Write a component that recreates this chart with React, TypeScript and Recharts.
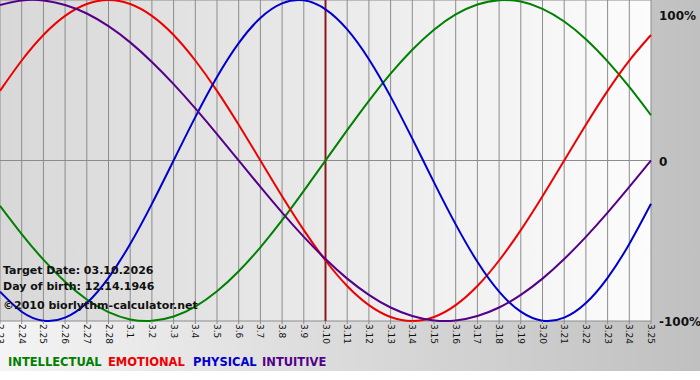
import React from 'react';
import {
  LineChart,
  Line,
  XAxis,
  YAxis,
  CartesianGrid,
  ReferenceLine,
} from 'recharts';

const dates = [
  '2.23', '2.24', '2.25', '2.26', '2.27', '2.28',
  '3.1', '3.2', '3.3', '3.4', '3.5', '3.6', '3.7', '3.8', '3.9', '3.10',
  '3.11', '3.12', '3.13', '3.14', '3.15', '3.16', '3.17', '3.18', '3.19', '3.20',
  '3.21', '3.22', '3.23', '3.24', '3.25',
];

// values, -1 .. 1
const physical = [
  -0.817, -0.942, -0.998, -0.979, -0.888, -0.731, -0.52, -0.27, 0, 0.27, 0.52,
  0.731, 0.888, 0.979, 0.998, 0.942, 0.817, 0.631, 0.398, 0.136, -0.136,
  -0.398, -0.631, -0.817, -0.942, -0.998, -0.979, -0.888, -0.731, -0.52, -0.27,
];
const emotional = [
  0.434, 0.623, 0.782, 0.901, 0.975, 1, 0.975, 0.901, 0.782, 0.623, 0.434,
  0.223, 0, -0.223, -0.434, -0.623, -0.782, -0.901, -0.975, -1, -0.975,
  -0.901, -0.782, -0.623, -0.434, -0.223, 0, 0.223, 0.434, 0.623, 0.782,
];
const intellectual = [
  -0.282, -0.458, -0.618, -0.756, -0.866, -0.945, -0.99, -0.999, -0.972, -0.91, -0.815,
  -0.69, -0.541, -0.372, -0.189, 0, 0.189, 0.372, 0.541, 0.69, 0.815,
  0.91, 0.972, 0.999, 0.99, 0.945, 0.866, 0.756, 0.618, 0.458, 0.282,
];
const intuitive = [
  0.969, 0.997, 0.997, 0.969, 0.916, 0.837, 0.736, 0.614, 0.476, 0.325, 0.165,
  0, -0.165, -0.325, -0.476, -0.614, -0.736, -0.837, -0.916, -0.969, -0.997,
  -0.997, -0.969, -0.916, -0.837, -0.736, -0.614, -0.476, -0.325, -0.165, 0,
];

const yTicks = [-1, 0, 1];
const yLabels: Record<string, string> = { '1': '100%', '0': '0', '-1': '-100%' };

const targetDay = '3.10';

const data = dates.map((d, i) => ({
  date: d,
  physical: physical[i],
  emotional: emotional[i],
  intellectual: intellectual[i],
  intuitive: intuitive[i],
}));

const font = '"DejaVu Sans", Verdana, sans-serif';

const DateTick = ({ x, y, payload }: any) => (
  <text
    x={x}
    y={y}
    transform={`rotate(90 ${x} ${y})`}
    textAnchor="start"
    dominantBaseline="central"
    fontFamily={font}
    fontSize={9}
    fill="#111"
  >
    {payload.value}
  </text>
);

const PercentTick = ({ x, y, payload }: any) => {
  const v = payload.value;
  const yy = v === 1 ? y + 7 : y + 1;
  return (
    <text
      x={x}
      y={yy}
      textAnchor="start"
      dominantBaseline="central"
      fontFamily={font}
      fontSize={12}
      fontWeight="bold"
      fill="#111"
    >
      {yLabels[String(v)]}
    </text>
  );
};

const legend = [
  { name: 'INTELLECTUAL', color: '#008000', x: 8 },
  { name: 'EMOTIONAL', color: '#ee0000', x: 108 },
  { name: 'PHYSICAL', color: '#0000cc', x: 193 },
  { name: 'INTUITIVE', color: '#550088', x: 262 },
];

const notes = [
  { text: 'Target Date: 03.10.2026', y: 271 },
  { text: 'Day of birth: 12.14.1946', y: 287 },
  { text: '\u00a92010 biorlythm-calculator.net', y: 306 },
];

const lineProps = {
  type: 'natural' as const,
  strokeWidth: 2,
  dot: false,
  activeDot: false,
  isAnimationActive: false,
};

export default function App() {
  return (
    <div
      style={{
        position: 'absolute',
        left: 0,
        top: 0,
        width: 700,
        height: 380,
        background: '#fff',
        fontFamily: font,
      }}
    >
      <div
        style={{
          position: 'absolute',
          left: 0,
          top: 0,
          width: 700,
          height: 371,
          background: 'linear-gradient(to right, #f4f4f4, #c0c0c0)',
        }}
      />
      <div
        style={{
          position: 'absolute',
          left: 0,
          top: 0,
          width: 651,
          height: 321,
          background: 'linear-gradient(to right, #d8d8d8, #fcfcfc)',
        }}
      />
      <div style={{ position: 'absolute', left: 0, top: 0 }}>
        <LineChart
          width={700}
          height={380}
          data={data}
          margin={{ top: 0, right: 0, bottom: 29, left: 0 }}
        >
          <CartesianGrid stroke="#8c8c8c" />
          <XAxis
            dataKey="date"
            interval={0}
            height={30}
            axisLine={false}
            tickSize={3}
            tickMargin={0}
            tickLine={{ stroke: '#8c8c8c' }}
            tick={<DateTick />}
          />
          <YAxis
            orientation="right"
            width={49}
            domain={[-1, 1]}
            ticks={yTicks}
            axisLine={false}
            tickLine={false}
            tick={<PercentTick />}
          />
          <ReferenceLine x={targetDay} stroke="#8b1a1a" strokeWidth={2} />
          <Line {...lineProps} dataKey="intellectual" stroke="#008000" />
          <Line {...lineProps} dataKey="emotional" stroke="#ee0000" />
          <Line {...lineProps} dataKey="physical" stroke="#0000cc" />
          <Line {...lineProps} dataKey="intuitive" stroke="#550088" />
        </LineChart>
      </div>
      {notes.map((n) => (
        <div
          key={n.text}
          style={{
            position: 'absolute',
            left: 3,
            top: n.y - 7,
            fontSize: 11,
            fontWeight: 'bold',
            lineHeight: '14px',
            color: '#111',
            whiteSpace: 'nowrap',
          }}
        >
          {n.text}
        </div>
      ))}
      {legend.map((l) => (
        <div
          key={l.name}
          style={{
            position: 'absolute',
            left: l.x,
            top: 355,
            fontSize: 11.5,
            fontWeight: 'bold',
            lineHeight: '14px',
            color: l.color,
            whiteSpace: 'nowrap',
          }}
        >
          {l.name}
        </div>
      ))}
    </div>
  );
}
